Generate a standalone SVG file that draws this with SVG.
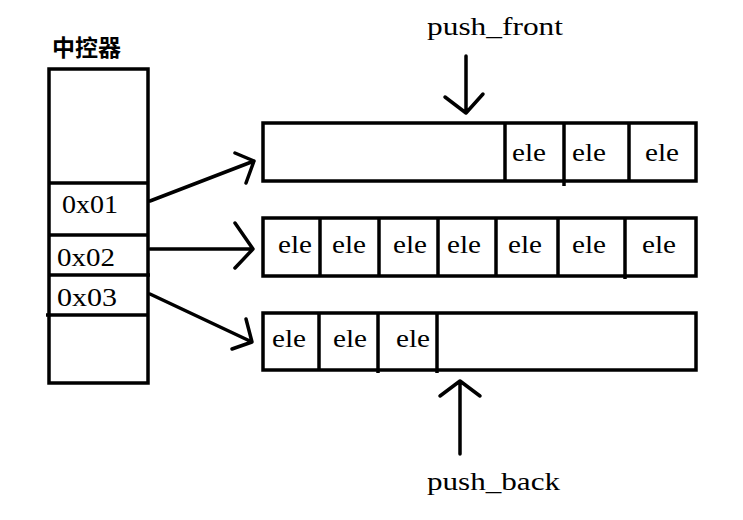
<svg xmlns="http://www.w3.org/2000/svg" width="743" height="520" viewBox="0 0 743 520">
<style>
.box{fill:none;stroke:#000;stroke-width:3.5}
.ln{fill:none;stroke:#000;stroke-width:3.5;stroke-linecap:round;stroke-linejoin:round}
.t{font-family:"Liberation Serif","DejaVu Serif",serif;font-size:26px;fill:#000}
.h{font-family:"Noto Sans CJK SC","Noto Sans CJK JP",sans-serif;font-size:23px;font-weight:bold;fill:#000}
</style>
<rect width="743" height="520" fill="#fff"/>
<g id="controller">
<text class="h" x="52" y="56">中控器</text>
<rect class="box" x="49" y="69" width="99" height="314"/>
<line class="box" x1="49" y1="183" x2="148" y2="183"/>
<line class="box" x1="49" y1="235" x2="148" y2="235"/>
<line class="box" x1="49" y1="275" x2="150" y2="275"/>
<line class="box" x1="46" y1="315" x2="148" y2="315"/>
<text class="t" x="62" y="213" textLength="56" lengthAdjust="spacingAndGlyphs">0x01</text>
<text class="t" x="57" y="266" textLength="58" lengthAdjust="spacingAndGlyphs">0x02</text>
<text class="t" x="57" y="306" textLength="60" lengthAdjust="spacingAndGlyphs">0x03</text>
</g>
<g id="block1">
<rect class="box" x="263" y="123" width="433" height="58"/>
<line class="box" x1="505" y1="123" x2="505" y2="181"/>
<line class="box" x1="564" y1="123" x2="564" y2="186"/>
<line class="box" x1="629" y1="123" x2="629" y2="181"/>
<text class="t" x="512" y="161" textLength="34" lengthAdjust="spacingAndGlyphs">ele</text>
<text class="t" x="572" y="161" textLength="34" lengthAdjust="spacingAndGlyphs">ele</text>
<text class="t" x="645" y="161" textLength="34" lengthAdjust="spacingAndGlyphs">ele</text>
</g>
<g id="block2">
<rect class="box" x="263" y="218" width="433" height="58"/>
<line class="box" x1="320" y1="218" x2="320" y2="276"/>
<line class="box" x1="379" y1="218" x2="379" y2="276"/>
<line class="box" x1="438" y1="218" x2="438" y2="276"/>
<line class="box" x1="496" y1="218" x2="496" y2="276"/>
<line class="box" x1="558" y1="218" x2="558" y2="276"/>
<line class="box" x1="625" y1="218" x2="625" y2="279"/>
<text class="t" x="278" y="253" textLength="34" lengthAdjust="spacingAndGlyphs">ele</text>
<text class="t" x="332" y="253" textLength="34" lengthAdjust="spacingAndGlyphs">ele</text>
<text class="t" x="393" y="253" textLength="34" lengthAdjust="spacingAndGlyphs">ele</text>
<text class="t" x="447" y="253" textLength="34" lengthAdjust="spacingAndGlyphs">ele</text>
<text class="t" x="508" y="253" textLength="34" lengthAdjust="spacingAndGlyphs">ele</text>
<text class="t" x="572" y="253" textLength="34" lengthAdjust="spacingAndGlyphs">ele</text>
<text class="t" x="642" y="253" textLength="34" lengthAdjust="spacingAndGlyphs">ele</text>
</g>
<g id="block3">
<rect class="box" x="263" y="313" width="433" height="57"/>
<line class="box" x1="319" y1="313" x2="319" y2="370"/>
<line class="box" x1="378" y1="313" x2="378" y2="373"/>
<line class="box" x1="437" y1="313" x2="437" y2="373"/>
<text class="t" x="272" y="347" textLength="34" lengthAdjust="spacingAndGlyphs">ele</text>
<text class="t" x="333" y="347" textLength="34" lengthAdjust="spacingAndGlyphs">ele</text>
<text class="t" x="396" y="347" textLength="34" lengthAdjust="spacingAndGlyphs">ele</text>
</g>
<g id="push_front">
<text class="t" x="427" y="35" textLength="136" lengthAdjust="spacingAndGlyphs">push_front</text>
</g>
<g id="push_back">
<text class="t" x="427" y="490" textLength="133" lengthAdjust="spacingAndGlyphs">push_back</text>
</g>
<g id="connectors">
<path class="ln" d="M150 201 L254 161 M235 153 L254 161 L246 183"/>
<path class="ln" d="M150 249 L253 249 M235 223 L253 249 L235 268"/>
<path class="ln" d="M150 294 L252 342 M246 319 L252 342 L232 349"/>
<path class="ln" d="M466 56 L466 113 M445 97 L466 113 L483 94"/>
<path class="ln" d="M460 454 L460 381 M440 396 L460 381 L480 396"/>
</g>
</svg>
